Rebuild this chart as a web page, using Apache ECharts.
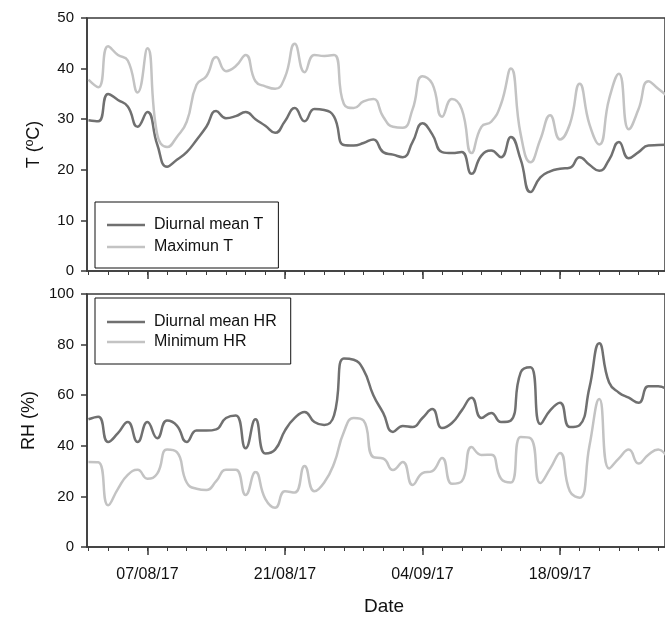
<!DOCTYPE html>
<html>
<head>
<meta charset="utf-8">
<script src="https://cdn.jsdelivr.net/npm/echarts@6/dist/echarts.min.js"></script>
<style>
  html, body { margin: 0; padding: 0; background: #fff; }
  #chart { width: 665px; height: 619px; }
</style>
</head>
<body>
<div id="chart"></div>
<script>
// one value per day, 01/08/17 .. 29/09/17
const dates = [
  '2017-08-01', '2017-08-02', '2017-08-03', '2017-08-04', '2017-08-05', '2017-08-06', '2017-08-07', '2017-08-08', '2017-08-09', '2017-08-10',
  '2017-08-11', '2017-08-12', '2017-08-13', '2017-08-14', '2017-08-15', '2017-08-16', '2017-08-17', '2017-08-18', '2017-08-19', '2017-08-20',
  '2017-08-21', '2017-08-22', '2017-08-23', '2017-08-24', '2017-08-25', '2017-08-26', '2017-08-27', '2017-08-28', '2017-08-29', '2017-08-30',
  '2017-08-31', '2017-09-01', '2017-09-02', '2017-09-03', '2017-09-04', '2017-09-05', '2017-09-06', '2017-09-07', '2017-09-08', '2017-09-09',
  '2017-09-10', '2017-09-11', '2017-09-12', '2017-09-13', '2017-09-14', '2017-09-15', '2017-09-16', '2017-09-17', '2017-09-18', '2017-09-19',
  '2017-09-20', '2017-09-21', '2017-09-22', '2017-09-23', '2017-09-24', '2017-09-25', '2017-09-26', '2017-09-27', '2017-09-28', '2017-09-29'
];

const meanT = [
  29.8, 29.6, 35, 33.8, 32.5, 28.5, 31.4, 25, 20.6, 22,
  23.5, 25.9, 28.5, 31.6, 30.2, 30.6, 31.4, 30, 28.7, 27.3,
  29.6, 32.2, 29.6, 32, 31.8, 30.5, 24.9, 24.8, 25.3, 26,
  23.5, 23, 22.5, 25.5, 29.2, 27, 23.5, 23.3, 23.5, 19.2,
  22.8, 23.8, 22.5, 26.5, 22, 15.6, 18.5, 19.7, 20.2, 20.4,
  22.5, 21, 19.8, 22, 25.5, 22.3, 23.5, 24.8, 24.9, 25
];
const maxT = [
  37.8, 36.3, 44.4, 42.7, 41.6, 35.3, 44, 27, 24.5, 26.5,
  29.5, 36.8, 38.5, 42.3, 39.5, 40.5, 42.7, 37.5, 36.5, 36,
  38.3, 44.9, 39.3, 42.7, 42.5, 42.7, 33, 32.2, 33.5, 34,
  30.5, 28.5, 28.3, 32, 38.5, 37, 30.5, 34, 32, 23.3,
  28.5, 29.5, 33, 40, 27, 21.5, 26, 30.8, 26, 29,
  37, 29, 25, 34, 39, 28, 32, 37.5, 36, 34.5
];
const meanHR = [
  50.5, 51.5, 41.5, 45, 49.4, 41.5, 49.4, 43, 50, 48,
  41.5, 46, 46, 46.5, 51, 52, 39, 50.5, 37, 38.5,
  46, 51, 53.4, 49.4, 48.2, 52, 74.5, 74, 70, 60,
  53, 45.5, 47.8, 47.4, 51, 54.5, 47, 49, 54, 59,
  51, 53, 49.4, 50, 69, 71, 48.6, 54, 57, 47.4,
  48.2, 63, 80.5, 65, 61, 59, 57, 63.5, 63.5, 62
];
const minHR = [
  33.6, 33.5, 16.5, 23, 28.5, 30.5, 27, 29, 38.5, 37.5,
  25.5, 23, 22.5, 26, 30.5, 30.5, 20.6, 29.6, 19, 15.5,
  22, 21.5, 32, 22, 25.5, 33, 45.5, 51, 50, 35.5,
  35, 30.4, 33.6, 24.5, 29.2, 30, 35.2, 25, 26, 39.5,
  36.4, 36.5, 27, 25.5, 43.5, 43, 25.3, 31, 37.2, 22,
  19.5, 40, 58.5, 31, 35, 38.5, 33, 36.5, 38.5, 35
];
const dateTicks = ['2017-08-07', '2017-08-21', '2017-09-04', '2017-09-18'];

// x axis is in days counted from the first labelled date
const DAY = 86400000;
const font = 'Arial, "Liberation Sans", sans-serif';
const axisColor = '#3a3a3a';
const darkGrey = '#707070';
const lightGrey = '#c3c3c3';

function toTime(s) {
  const p = s.split('-').map(Number);
  return Date.UTC(p[0], p[1] - 1, p[2]);
}
function pad(n) { return (n < 10 ? '0' : '') + n; }

const t0 = toTime(dateTicks[0]);
const toDay = (s) => Math.round((toTime(s) - t0) / DAY);

const xMin = -6.15;
const xMax = xMin + 58.84;
const majorTicks = dateTicks.map(toDay);
let minorTicks = [];
for (let d = -6; d <= xMax; d += 2) minorTicks.push(d);

const pairs = (vals) => vals.map((v, i) => [toDay(dates[i]), v]);

function dayLabel(v) {
  const d = new Date(t0 + v * DAY);
  return pad(d.getUTCDate()) + '/' + pad(d.getUTCMonth() + 1) + '/' + pad(d.getUTCFullYear() % 100);
}

function xAxes(g) {
  return [
    {
      type: 'value', gridIndex: g, position: 'bottom', min: xMin, max: xMax,
      axisLine: { show: true, onZero: false, lineStyle: { color: axisColor, width: 1.5 } },
      axisTick: { show: true, customValues: majorTicks, length: 8, lineStyle: { color: axisColor, width: 1.5 } },
      axisLabel: {
        show: g === 1, customValues: majorTicks, margin: 20, fontSize: 16, color: '#111', fontFamily: font,
        formatter: dayLabel
      },
      splitLine: { show: false },
      name: g === 1 ? 'Date' : '', nameLocation: 'middle', nameGap: 50,
      nameTextStyle: { fontSize: 19, color: '#111', fontFamily: font, padding: [0, 0, 0, 16] }
    },
    {
      type: 'value', gridIndex: g, position: 'bottom', min: xMin, max: xMax,
      axisLine: { show: false, onZero: false },
      axisTick: { show: true, customValues: minorTicks, length: 4, lineStyle: { color: axisColor, width: 1 } },
      axisLabel: { show: false },
      splitLine: { show: false }
    }
  ];
}

function yAxis(g, max, interval, name) {
  return {
    type: 'value', gridIndex: g, min: 0, max: max, interval: interval,
    axisLine: { show: true, onZero: false, lineStyle: { color: axisColor, width: 1.5 } },
    axisTick: { show: true, length: 6, lineStyle: { color: axisColor, width: 1.5 } },
    axisLabel: { margin: 13, fontSize: 15, color: '#111', fontFamily: font },
    splitLine: { show: false },
    name: name, nameLocation: 'middle', nameGap: 44,
    nameTextStyle: { fontSize: 18, color: '#111', fontFamily: font }
  };
}

function line(name, vals, xi, yi, color) {
  return {
    name: name, type: 'line', xAxisIndex: xi, yAxisIndex: yi,
    data: pairs(vals), smooth: 0.5, symbol: 'none',
    lineStyle: { color: color, width: 2.5 }, itemStyle: { color: color }
  };
}

function legend(names, top, itemGap, padding) {
  return {
    orient: 'vertical', left: 95, top: top, data: names,
    icon: 'rect', itemWidth: 38, itemHeight: 2.5, itemGap: itemGap, padding: padding,
    borderColor: '#111', borderWidth: 1, backgroundColor: '#fff',
    selectedMode: false,
    textStyle: { fontSize: 16, color: '#111', fontFamily: font, padding: [0, 0, 0, 4] }
  };
}

const chart = echarts.init(document.getElementById('chart'), null, { renderer: 'canvas' });
chart.setOption({
  animation: false,
  backgroundColor: '#fff',
  grid: [
    { left: 87, top: 18, width: 580, height: 253, show: true, borderColor: axisColor, borderWidth: 1.5, backgroundColor: 'transparent' },
    { left: 87, top: 294, width: 580, height: 253, show: true, borderColor: axisColor, borderWidth: 1.5, backgroundColor: 'transparent' }
  ],
  xAxis: xAxes(0).concat(xAxes(1)),
  yAxis: [yAxis(0, 50, 10, 'T (ºC)'), yAxis(1, 100, 20, 'RH (%)')],
  legend: [
    legend(['Diurnal mean T', 'Maximun T'], 202, 6, [15, 15, 13, 12]),
    legend(['Diurnal mean HR', 'Minimum HR'], 298, 4, [16, 14, 14, 12])
  ],
  series: [
    line('Diurnal mean T', meanT, 0, 0, darkGrey),
    line('Maximun T', maxT, 0, 0, lightGrey),
    line('Diurnal mean HR', meanHR, 2, 1, darkGrey),
    line('Minimum HR', minHR, 2, 1, lightGrey)
  ]
});
</script>
</body>
</html>
